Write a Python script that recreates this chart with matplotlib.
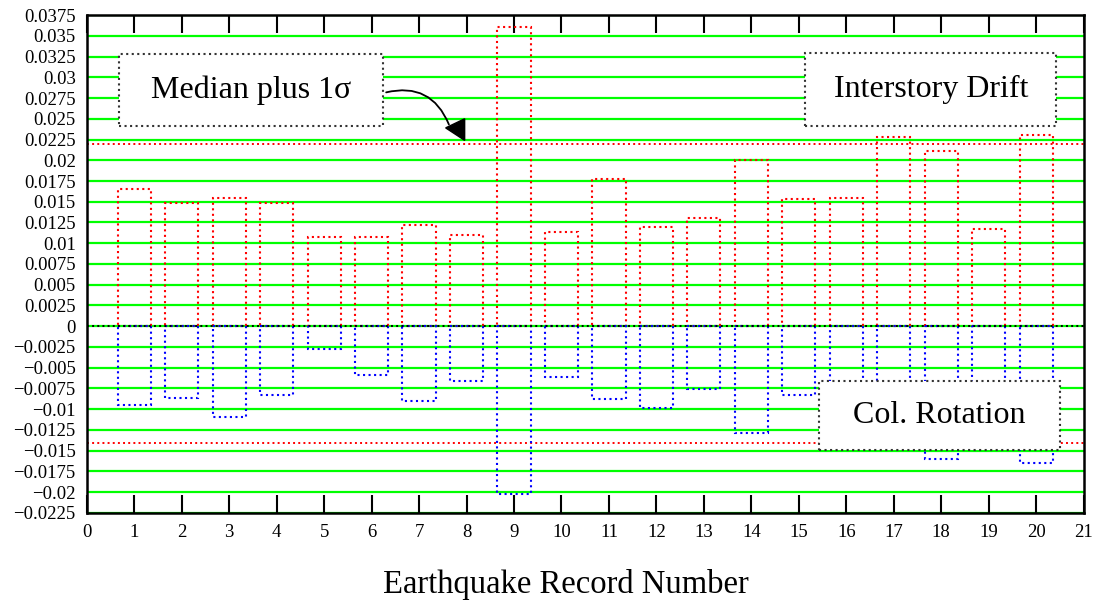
import numpy as np
import matplotlib
matplotlib.use("Agg")
import matplotlib.pyplot as plt
from matplotlib.patches import Polygon

# data
records = np.arange(1, 21)
drift = [0.0165, 0.0148, 0.0155, 0.0148, 0.0108, 0.0107, 0.0122, 0.0110, 0.0360, 0.0114,
         0.0177, 0.0119, 0.0131, 0.0200, 0.0153, 0.0155, 0.0228, 0.0211, 0.0117, 0.0230]
rotation = [-0.0095, -0.0086, -0.0110, -0.0083, -0.0028, -0.0059, -0.0090, -0.0066, -0.0202, -0.0061,
            -0.0088, -0.0098, -0.0076, -0.0129, -0.0083, -0.0090, -0.0110, -0.0160, -0.0080, -0.0165]
drift_median_1s = 0.0220
rot_median_1s = -0.0141
yticks = np.arange(-0.0225, 0.0376, 0.0025)
xticks = np.arange(0, 22)

plt.rcParams['font.family'] = ['Liberation Serif', 'DejaVu Serif']

fig = plt.figure(figsize=(10.99, 6.02), dpi=100)
ax = fig.add_axes([0.079, 0.148, 0.907, 0.827])

# green grid
for yv in yticks:
    ax.axhline(yv, color='#00ff00', lw=1.6, zorder=1)

ax.bar(records, drift, width=0.7, fill=False, edgecolor='red', linestyle=':', linewidth=1.5, zorder=3)
ax.bar(records, rotation, width=0.7, fill=False, edgecolor='blue', linestyle=':', linewidth=1.5, zorder=3)

ax.axhline(0, color='black', ls=':', lw=1.4, zorder=4)
ax.axhline(drift_median_1s, color='red', ls=':', lw=1.4, zorder=2)
ax.axhline(rot_median_1s, color='red', ls=':', lw=1.4, zorder=2)

ax.set_xlim(0, 21)
ax.set_ylim(-0.0225, 0.0375)
ax.set_xticks(xticks)
ax.set_xticklabels([str(v) for v in xticks], fontsize=13.5)
ax.set_yticks(yticks)
ylabels = []
for v in yticks:
    s = ('%.4f' % abs(v)).rstrip('0').rstrip('.')
    if abs(v) < 1e-9:
        s = '0'
    ylabels.append(('\u2212' + s) if v < -1e-9 else s)
ax.set_yticklabels(ylabels, fontsize=13.5)
ax.tick_params(axis='x', direction='in', length=13, width=1.5, top=True, pad=8)
ax.tick_params(axis='y', length=0, pad=8)
for sp in ax.spines.values():
    sp.set_linewidth(1.8)

fig.text(566 / 1099, 1 - 584 / 602, 'Earthquake Record Number', ha='center', va='center', fontsize=23.5)

def label_box(x0, x1, y0, y1, text):
    ax.add_patch(plt.Rectangle((x0, y0), x1 - x0, y1 - y0, facecolor='white',
                               edgecolor='#333333', linestyle=':', linewidth=1.5, zorder=5))
    ax.text((x0 + x1) / 2, (y0 + y1) / 2, text, ha='center', va='center', fontsize=23, zorder=6)

label_box(0.67, 6.25, 0.0241, 0.0328, 'Median plus 1\u03c3')
label_box(15.14, 20.42, 0.0241, 0.0329, 'Interstory Drift')
label_box(15.43, 20.5, -0.0149, -0.0066, 'Col. Rotation')

# curved pointer
ax.annotate('', xy=(7.65, 0.0240), xytext=(6.25, 0.0281),
            arrowprops=dict(arrowstyle='-', color='black', lw=1.3,
                            connectionstyle='arc3,rad=-0.45'), zorder=6)
ax.add_patch(Polygon([(7.56, 0.0239), (7.96, 0.0250), (7.96, 0.0224)], closed=True,
                     facecolor='black', edgecolor='black', zorder=6))

fig.savefig('out.png', dpi=100)
